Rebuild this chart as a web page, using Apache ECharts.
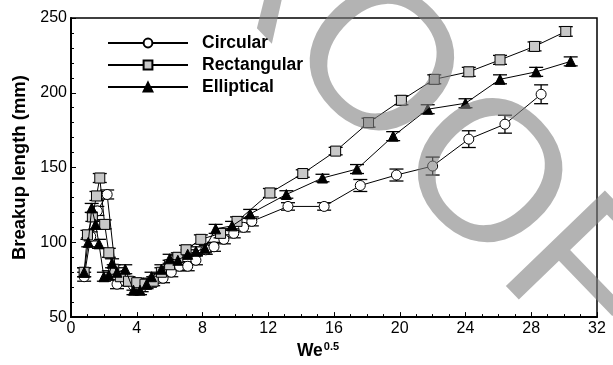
<!DOCTYPE html>
<html>
<head>
<meta charset="utf-8">
<script src="https://cdn.jsdelivr.net/npm/echarts@6/dist/echarts.min.js"></script>
<style>
  html, body { margin: 0; padding: 0; background: #fff; }
  #main { width: 613px; height: 365px; }
</style>
</head>
<body>
<div id="main"></div>
<script>
// values: We^0.5 and breakup length (mm), +- error
var circX = [0.8, 1.2, 1.6, 2.2, 2.8, 3.3, 3.8, 4.3, 4.8, 5.3, 5.6, 6.1, 6.6, 7.1, 7.6, 8.2, 8.7, 9.3, 9.9, 10.5, 11.0, 13.2, 15.4, 17.6, 19.8, 22.0, 24.2, 26.4, 28.6];
var circY = [77, 104, 121, 132, 72, 74, 71, 70, 73, 76, 76, 80, 84, 84, 88, 95, 97, 102, 106, 110, 114, 124, 124, 138, 145, 151, 169, 179, 199];
var circE = [3, 3, 3, 3, 3, 3, 3, 3, 3, 3, 3, 3, 3, 3, 3, 3, 3, 3, 3, 3, 3, 2.5, 2.5, 4, 4, 6, 5.6, 6, 6.3];

var rectX = [0.8, 1.0, 1.3, 1.55, 1.75, 2.05, 2.3, 2.6, 3.0, 3.5, 4.0, 4.5, 5.0, 5.5, 6.0, 6.5, 7.0, 7.9, 9.1, 10.1, 12.1, 14.1, 16.1, 18.1, 20.1, 22.1, 24.2, 26.1, 28.2, 30.1];
var rectY = [80, 105, 117, 131, 143, 112, 93, 82, 77, 74, 73, 72, 74, 80, 85, 90, 95, 102, 106, 114, 133, 146, 161, 180, 195, 209, 214, 222, 231, 241];
var rectE = [3, 3, 3, 3, 3, 3, 3, 3, 3, 3, 3, 3, 3, 3, 3, 3, 3, 3, 3, 3, 3, 2.5, 2.5, 3, 3, 3, 3, 3, 3, 3.2];

var ellX = [0.8, 1.05, 1.26, 1.5, 1.7, 2.0, 2.3, 2.5, 2.8, 3.3, 3.8, 4.2, 4.6, 4.9, 5.5, 6.0, 6.5, 7.1, 7.6, 8.15, 8.8, 9.8, 10.9, 13.1, 15.3, 17.4, 19.6, 21.7, 24.0, 26.1, 28.3, 30.4];
var ellY = [80, 100, 123, 112, 99, 77, 78, 86, 80, 82, 68, 68, 72, 77, 82, 89, 88, 92, 94, 96, 109, 111, 119, 132, 143, 149, 171, 189, 193, 209, 214, 221];
var ellE = [3, 3, 3, 3, 3, 3, 3, 3, 3, 3, 3, 3, 3, 3, 3, 3, 3, 3, 3, 3, 3, 3, 3, 2.5, 2.5, 3, 3, 3, 3, 3, 3, 3];

var seriesNames = ['Circular', 'Rectangular', 'Elliptical'];

function pairs(xs, ys) {
  return xs.map(function (x, i) { return [x, ys[i]]; });
}
function bars(xs, ys, es) {
  return xs.map(function (x, i) { return [x, ys[i] - es[i], ys[i] + es[i]]; });
}

function renderErr(params, api) {
  var x = api.value(0);
  var lo = api.coord([x, api.value(1)]);
  var hi = api.coord([x, api.value(2)]);
  var w = 7;
  var st = { stroke: '#000', lineWidth: 1.3 };
  return {
    type: 'group',
    children: [
      { type: 'line', shape: { x1: lo[0], y1: lo[1], x2: hi[0], y2: hi[1] }, style: st },
      { type: 'line', shape: { x1: lo[0] - w, y1: lo[1], x2: lo[0] + w, y2: lo[1] }, style: st },
      { type: 'line', shape: { x1: hi[0] - w, y1: hi[1], x2: hi[0] + w, y2: hi[1] }, style: st }
    ]
  };
}

function errSeries(xs, ys, es) {
  return {
    type: 'custom',
    renderItem: renderErr,
    data: bars(xs, ys, es),
    encode: { x: 0, y: [1, 2] },
    z: 2,
    silent: true
  };
}

var chart = echarts.init(document.getElementById('main'));

var option = {
  animation: false,
  backgroundColor: '#fff',
  textStyle: { fontFamily: 'Liberation Sans, Arial, sans-serif' },
  grid: {
    left: 71, right: 16, top: 18, bottom: 39,
    show: true, borderColor: '#000', borderWidth: 1.5
  },
  legend: {
    data: seriesNames,
    orient: 'vertical',
    left: 107, top: 34, padding: 0,
    itemWidth: 80, itemHeight: 11, itemGap: 4,
    textStyle: { fontSize: 17.5, fontWeight: 'bold', color: '#000', padding: [0, 0, 0, 9] }
  },
  xAxis: {
    type: 'value', min: 0, max: 32, interval: 4,
    name: '{a|We}{b|0.5}',
    nameLocation: 'middle', nameGap: 20,
    nameTextStyle: {
      padding: [0, 32, 0, 0],
      rich: {
        a: { fontSize: 17.5, fontWeight: 'bold', color: '#000' },
        b: { fontSize: 11, fontWeight: 'bold', color: '#000', verticalAlign: 'top', padding: [0, 0, 9, 1] }
      }
    },
    axisLine: { lineStyle: { color: '#000', width: 2 } },
    axisTick: { inside: true, length: 5, lineStyle: { color: '#000' } },
    minorTick: { show: true, splitNumber: 4, length: 3, lineStyle: { color: '#000' } },
    axisLabel: { color: '#000', fontSize: 16, margin: 3 },
    splitLine: { show: false }
  },
  yAxis: {
    type: 'value', min: 50, max: 250, interval: 50,
    name: 'Breakup length (mm)',
    nameLocation: 'middle', nameGap: 36,
    nameTextStyle: { fontSize: 18.5, fontWeight: 'bold', color: '#000' },
    axisLine: { show: true, lineStyle: { color: '#000', width: 2 } },
    axisTick: { show: true, inside: true, length: 5, lineStyle: { color: '#000' } },
    minorTick: { show: true, splitNumber: 5, length: 3, lineStyle: { color: '#000' } },
    axisLabel: { color: '#000', fontSize: 16, margin: 4 },
    splitLine: { show: false }
  },
  graphic: [{
    type: 'text',
    x: 372, y: 68,
    rotation: -46 * Math.PI / 180,
    z: 100,
    silent: true,
    style: {
      text: 'PROOF',
      fontSize: 200,
      fontFamily: 'Liberation Sans',
      fill: 'rgba(128,128,128,0.6)',
      align: 'center',
      verticalAlign: 'middle'
    }
  }],
  series: [
    errSeries(circX, circY, circE),
    errSeries(rectX, rectY, rectE),
    errSeries(ellX, ellY, ellE),
    {
      name: 'Circular', type: 'line', z: 3,
      data: pairs(circX, circY),
      symbol: 'circle', symbolSize: 10,
      lineStyle: { color: '#000', width: 1 },
      itemStyle: { color: '#fff', borderColor: '#000', borderWidth: 1 }
    },
    {
      name: 'Rectangular', type: 'line', z: 4,
      data: pairs(rectX, rectY),
      symbol: 'rect', symbolSize: 10,
      lineStyle: { color: '#000', width: 1 },
      itemStyle: { color: '#c8c8c8', borderColor: '#000', borderWidth: 1 }
    },
    {
      name: 'Elliptical', type: 'line', z: 5,
      data: pairs(ellX, ellY),
      symbol: 'triangle', symbolSize: 10,
      lineStyle: { color: '#000', width: 1 },
      itemStyle: { color: '#000', borderColor: '#000', borderWidth: 1 }
    }
  ]
};

chart.setOption(option);
</script>
</body>
</html>
